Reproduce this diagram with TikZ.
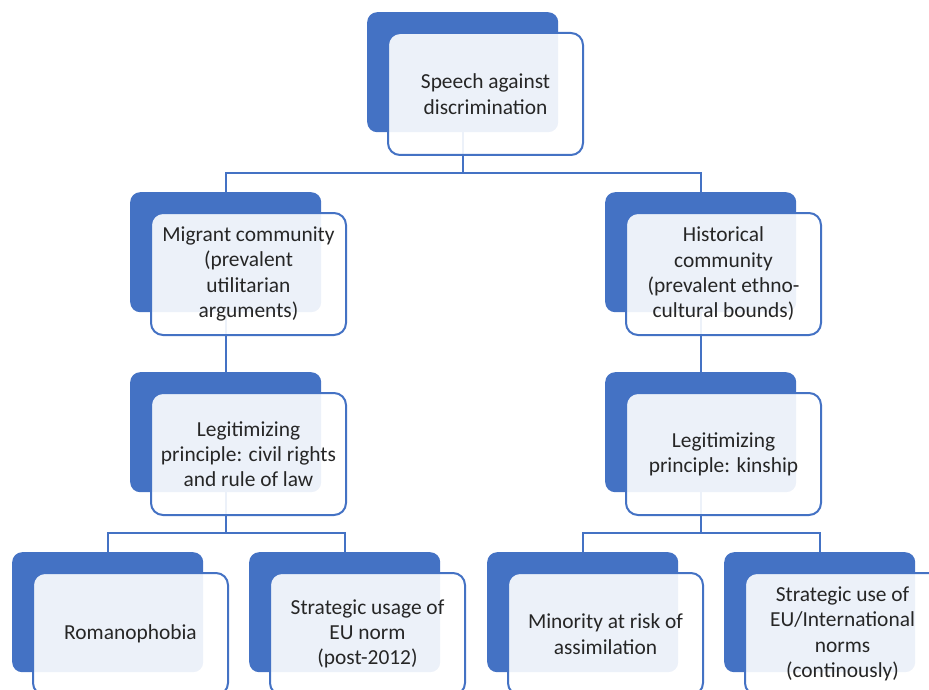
\documentclass[tikz,border=0pt]{standalone}
\usepackage{fontspec}
\setmainfont{Carlito}
\definecolor{sablue}{HTML}{4472C4}
\definecolor{txt}{HTML}{262626}
\begin{document}
\begin{tikzpicture}[x=1pt,y=-1pt,
  darkbox/.style={anchor=north west, fill=sablue, draw=none, rounded corners=10pt,
    minimum width=191pt, minimum height=120pt, inner sep=0pt},
  frontbox/.style={anchor=north west, draw=sablue, line width=2pt, fill=white, fill opacity=0.9,
    text opacity=1, rounded corners=12pt, minimum width=195pt, minimum height=122pt,
    inner sep=0pt, align=center, text=txt, font=\fontsize{21.4}{25.3}\selectfont},
  conn/.style={draw=sablue, line width=2pt}]
\clip (0,0) rectangle (929,690);
\useasboundingbox (0,0) rectangle (929,690);
% dark boxes
\node[darkbox] (d0) at (367,12) {};
\node[darkbox] (d1) at (130,192) {};
\node[darkbox] (d2) at (605,192) {};
\node[darkbox] (d3) at (130,372) {};
\node[darkbox] (d4) at (605,372) {};
\node[darkbox] (d5) at (12,552) {};
\node[darkbox] (d6) at (249,552) {};
\node[darkbox] (d7) at (487,552) {};
\node[darkbox] (d8) at (724,552) {};
% connectors (behind front boxes)
\draw[conn] (d0.south) -- ++(0,41) -| (d1.north);
\draw[conn] (d0.south) -- ++(0,41) -| (d2.north);
\draw[conn] (d1.south) -- (d3.north);
\draw[conn] (d2.south) -- (d4.north);
\draw[conn] (d3.south) -- ++(0,41) -| (d5.north);
\draw[conn] (d3.south) -- ++(0,41) -| (d6.north);
\draw[conn] (d4.south) -- ++(0,41) -| (d7.north);
\draw[conn] (d4.south) -- ++(0,41) -| (d8.north);
% front boxes
\node[frontbox] (f0) at (387,32) {Speech against\\discrimination};
\node[frontbox] (f1) at (150,212) {Migrant community\\(prevalent\\utilitarian\\arguments)};
\node[frontbox] (f2) at (625,212) {Historical\\community\\(prevalent ethno-\\cultural bounds)};
\node[frontbox] (f3) at (150,392) {Legitimizing\\principle: civil rights\\and rule of law};
\node[frontbox] (f4) at (625,392) {Legitimizing\\principle: kinship};
\node[frontbox] (f5) at (32,572) {Romanophobia};
\node[frontbox] (f6) at (269,572) {Strategic usage of\\EU norm\\(post-2012)};
\node[frontbox] (f7) at (507,572) {Minority at risk of\\assimilation};
\node[frontbox] (f8) at (744,572) {Strategic use of\\EU/International\\norms\\(continously)};
\end{tikzpicture}
\end{document}
